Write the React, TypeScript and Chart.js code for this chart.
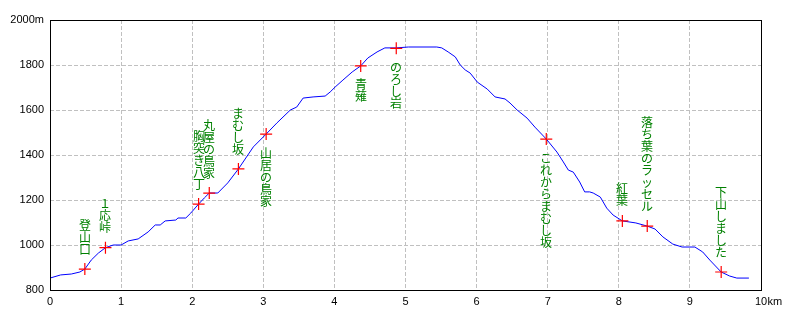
import React, { useEffect, useRef } from "react";
import { Chart, registerables } from "chart.js";

Chart.register(...registerables);

// Profile (distance km, elevation m)
const profileDist = [
  0, 0.15, 0.3, 0.42, 0.49, 0.58, 0.68, 0.78, 0.89, 1.0, 1.1, 1.24, 1.38, 1.48, 1.55, 1.62, 1.77, 1.8, 1.91, 1.98,
  2.09, 2.17, 2.24, 2.36, 2.5, 2.65, 2.86, 3.04, 3.19, 3.38, 3.47, 3.56, 3.7, 3.87, 3.94, 4.01, 4.12, 4.25, 4.37,
  4.47, 4.6, 4.71, 4.87, 5.04, 5.44, 5.51, 5.6, 5.7, 5.77, 5.84, 5.91, 6.01, 6.15, 6.26, 6.4, 6.47, 6.57, 6.71,
  6.82, 6.98, 7.13, 7.22, 7.29, 7.36, 7.45, 7.52, 7.59, 7.64, 7.74, 7.83, 7.92, 8.05, 8.24, 8.4, 8.51, 8.62, 8.76,
  8.89, 9.07, 9.18, 9.28, 9.44, 9.56, 9.66, 9.83,
];
const profileElev = [
  853, 867, 871, 880, 893, 933, 964, 988, 1000, 1000, 1018, 1027, 1058, 1089, 1089, 1107, 1111, 1120, 1120, 1142,
  1182, 1209, 1231, 1231, 1276, 1338, 1436, 1493, 1542, 1600, 1613, 1653, 1658, 1662, 1680, 1702, 1733, 1769, 1796,
  1831, 1858, 1876, 1876, 1880, 1880, 1876, 1858, 1836, 1800, 1778, 1764, 1724, 1693, 1658, 1649, 1631, 1600, 1564,
  1524, 1471, 1413, 1369, 1333, 1324, 1280, 1236, 1236, 1231, 1213, 1164, 1133, 1107, 1098, 1084, 1071, 1036, 1004,
  991, 991, 969, 933, 880, 862, 853, 853,
];

// Waypoints
const markerNames = [
  "登山口", "１応峠", "胸突き八丁", "丸屋の鳥家", "まむし坂", "山居の鳥家",
  "青薙", "のろし岩", "これからまむし坂", "紅葉", "落ち葉のラッセル", "下山しました",
];
const markerDist = [0.49, 0.78, 2.09, 2.24, 2.65, 3.04, 4.37, 4.87, 6.98, 8.05, 8.4, 9.44];
const markerElev = [893, 988, 1182, 1231, 1338, 1493, 1796, 1874, 1471, 1107, 1084, 880];
const markerLabelAbove = [true, true, true, true, true, false, false, false, false, true, true, true];

// Axis ticks
const xTickMax = 10;
const yTickMin = 800;
const yTickMax = 2000;

const labelPlugin = {
  id: "wpLabels",
  afterDatasetsDraw(chart: any) {
    const { ctx, scales } = chart;
    const xs = scales.x;
    const ys = scales.y;
    ctx.save();
    ctx.font = '12px "Noto Sans CJK JP"';
    ctx.fillStyle = "#008000";
    ctx.textAlign = "center";
    ctx.textBaseline = "middle";
    const step = 12;
    markerNames.forEach((name, i) => {
      const px = Math.round(xs.getPixelForValue(markerDist[i]));
      const py = ys.getPixelForValue(markerElev[i]);
      const chars = Array.from(name);
      const n = chars.length;
      const startY = markerLabelAbove[i] ? py - 20 - (n - 1) * step : py + 19;
      chars.forEach((ch, k) => {
        ctx.fillText(ch, px, startY + k * step);
      });
    });
    ctx.restore();
  },
  afterDraw(chart: any) {
    const { ctx, chartArea, scales } = chart;
    ctx.save();
    ctx.strokeStyle = "#000";
    ctx.lineWidth = 1;
    ctx.strokeRect(
      Math.round(chartArea.left) + 0.5,
      Math.round(chartArea.top) + 0.5,
      Math.round(chartArea.right - chartArea.left),
      Math.round(chartArea.bottom - chartArea.top)
    );
    // "km" unit after last x tick label
    ctx.font = '11px "Liberation Sans"';
    ctx.fillStyle = "#000";
    ctx.textBaseline = "middle";
    ctx.textAlign = "left";
    const x10 = scales.x.getPixelForValue(xTickMax);
    const w = ctx.measureText(String(xTickMax)).width;
    ctx.fillText("km", x10 + w / 2 + 0.5, chartArea.bottom + 12);
    ctx.restore();
  },
};

export default function App() {
  const ref = useRef<HTMLCanvasElement>(null);
  useEffect(() => {
    if (!ref.current) return;
    const chart = new Chart(ref.current, {
      type: "line",
      data: {
        datasets: [
          {
            label: "waypoints",
            data: markerDist.map((d, i) => ({ x: d, y: markerElev[i] })),
            showLine: false,
            pointStyle: "cross",
            pointRadius: 6,
            pointBorderColor: "#ff0000",
            pointBorderWidth: 1.2,
            borderColor: "#ff0000",
            order: 0,
          },
          {
            label: "profile",
            data: profileDist.map((d, i) => ({ x: d, y: profileElev[i] })),
            borderColor: "#0000ff",
            borderWidth: 1,
            pointRadius: 0,
            tension: 0,
            fill: false,
            order: 1,
          },
        ],
      },
      options: {
        responsive: false,
        animation: false,
        events: [],
        layout: { padding: { left: 0, top: 20, right: 39, bottom: 0 } },
        plugins: { legend: { display: false }, tooltip: { enabled: false } },
        scales: {
          x: {
            type: "linear",
            min: 0,
            max: xTickMax,
            afterFit: (s: any) => {
              s.height = 30;
            },
            ticks: {
              stepSize: 1,
              padding: 5,
              color: "#000",
              font: { family: "Liberation Sans", size: 11 },
              maxRotation: 0,
              autoSkip: false,
            },
            grid: { color: "#c0c0c0", drawTicks: false, lineWidth: 1 },
            border: { display: false, dash: [4, 2] },
          },
          y: {
            min: yTickMin,
            max: yTickMax,
            afterFit: (s: any) => {
              s.width = 50;
            },
            ticks: {
              stepSize: 200,
              padding: 6,
              color: "#000",
              font: { family: "Liberation Sans", size: 11 },
              callback: (v: any) => (v === yTickMax ? `${v}m` : `${v}`),
            },
            grid: { color: "#c0c0c0", drawTicks: false, lineWidth: 1 },
            border: { display: false, dash: [4, 2] },
          },
        },
      },
      plugins: [labelPlugin],
    });
    return () => chart.destroy();
  }, []);
  return (
    <div style={{ position: "fixed", left: 0, top: 0, width: 800, height: 320, background: "#fff" }}>
      <canvas ref={ref} width={800} height={320} style={{ width: 800, height: 320 }} />
    </div>
  );
}
